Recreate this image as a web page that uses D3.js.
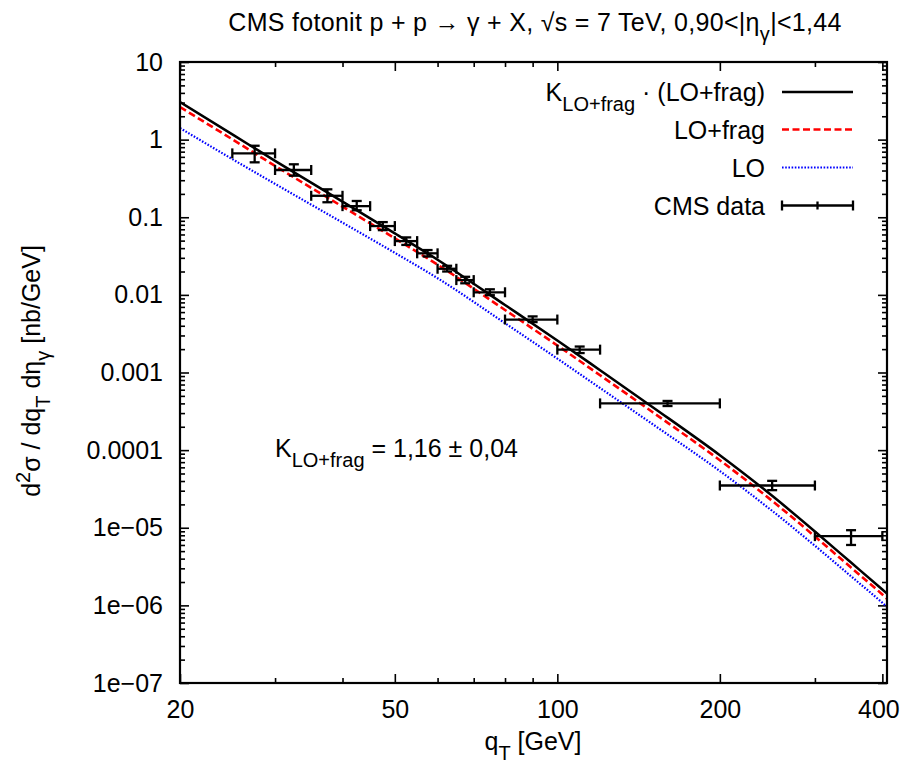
<!DOCTYPE html>
<html><head><meta charset="utf-8">
<script src="https://cdn.jsdelivr.net/npm/d3@7"></script>
<style>
html,body{margin:0;padding:0;background:#fff;}
svg text{font-family:"Liberation Sans",Arial,sans-serif;fill:#000;}
</style></head><body>
<svg id="chart" width="902" height="765"></svg>
<script>
// ---------- data ----------
const binLow  = [25,30,35,40,45,50,55,60,65,70,80,100,120,200,300];
const binHigh = [30,35,40,45,50,55,60,65,70,80,100,120,200,300,400];
const dataQ   = [27.5,32.5,37.5,42.5,47.5,52.5,57.5,62.5,67.5,75,90,110,160,250,350];
const dataVal = [0.665,0.406,0.189,0.139,0.077,0.0493,0.0343,0.0217,0.0155,0.0108,0.00481,0.00197,0.000400,3.5e-5,7.8e-6];
const dataLo  = [0.510,0.343,0.156,0.123,0.0682,0.044,0.0312,0.0200,0.0141,0.0099,0.00446,0.00178,0.00037,3.05e-5,6.0e-6];
const dataHi  = [0.834,0.481,0.229,0.162,0.0866,0.055,0.0378,0.0237,0.0171,0.0118,0.00528,0.00216,0.00043,4.02e-5,9.3e-6];

const curveQ   = [20,25,30,40,50,60,80,100,120,150,200,250,300,350,400,408];
const kLoFrag  = [3.05,1.17,0.533,0.159,0.0621,0.0284,0.00741,0.00259,0.00107,3.6e-4,8.6e-5,2.58e-5,8.95e-6,3.56e-6,1.60e-6,1.42e-6];
const loFrag   = [2.63,1.01,0.459,0.137,0.0535,0.0245,0.00639,0.00223,0.000922,3.10e-4,7.41e-5,2.22e-5,7.72e-6,3.07e-6,1.38e-6,1.22e-6];
const lo       = [1.41,0.561,0.269,0.0853,0.0348,0.0164,0.00432,0.00151,6.31e-4,2.17e-4,5.38e-5,1.65e-5,5.86e-6,2.37e-6,1.08e-6,9.57e-7];

const xTicks = [20,50,100,200,400];
const xTickLabels = ["20","50","100","200","400"];
const xMinorTicks = [30,40,60,70,80,90,300];
const yTicks = [1e-7,1e-6,1e-5,1e-4,1e-3,1e-2,1e-1,1,10];
const yTickLabels = ["1e\u221207","1e\u221206","1e\u221205","0.0001","0.001","0.01","0.1","1","10"];

// ---------- layout ----------
const M = {left:180, right:887, top:62, bottom:683};
const FS = 25;
const svg = d3.select("#chart");
const x = d3.scaleLog().domain([20,408]).range([M.left,M.right]);
const y = d3.scaleLog().domain([1e-7,10]).range([M.bottom,M.top]);

const yMinor = [];
for (let e=-7; e<1; e++) for (let k=2;k<=9;k++) yMinor.push(k*Math.pow(10,e));

function styleAxis(g){
  g.select(".domain").remove();
  g.selectAll(".tick line").attr("stroke","#000").attr("stroke-width",1.6);
  g.selectAll(".tick text").attr("font-size",FS).attr("font-family","Liberation Sans, Arial, sans-serif").attr("fill","#000");
}
// left
svg.append("g").attr("transform",`translate(${M.left},0)`)
  .call(d3.axisLeft(y).tickValues(yTicks).tickSize(-9).tickPadding(17).tickFormat((d,i)=>yTickLabels[i])).call(styleAxis);
svg.append("g").attr("transform",`translate(${M.left},0)`)
  .call(d3.axisLeft(y).tickValues(yMinor).tickSize(-5).tickFormat("")).call(styleAxis);
// right
svg.append("g").attr("transform",`translate(${M.right},0)`)
  .call(d3.axisRight(y).tickValues(yTicks).tickSize(-9).tickFormat("")).call(styleAxis);
svg.append("g").attr("transform",`translate(${M.right},0)`)
  .call(d3.axisRight(y).tickValues(yMinor).tickSize(-5).tickFormat("")).call(styleAxis);
// bottom
const xb = svg.append("g").attr("transform",`translate(0,${M.bottom})`)
  .call(d3.axisBottom(x).tickValues(xTicks).tickSize(-9).tickPadding(17).tickFormat((d,i)=>xTickLabels[i])).call(styleAxis);
xb.selectAll(".tick text").filter(d=>d===400).attr("dx",-4);
svg.append("g").attr("transform",`translate(0,${M.bottom})`)
  .call(d3.axisBottom(x).tickValues(xMinorTicks).tickSize(-5).tickFormat("")).call(styleAxis);
// top
svg.append("g").attr("transform",`translate(0,${M.top})`)
  .call(d3.axisTop(x).tickValues(xTicks).tickSize(-9).tickFormat("")).call(styleAxis);
svg.append("g").attr("transform",`translate(0,${M.top})`)
  .call(d3.axisTop(x).tickValues(xMinorTicks).tickSize(-5).tickFormat("")).call(styleAxis);

// clip
svg.append("clipPath").attr("id","clip").append("rect")
  .attr("x",M.left).attr("y",M.top).attr("width",M.right-M.left).attr("height",M.bottom-M.top);
const plot = svg.append("g").attr("clip-path","url(#clip)");

// curves
const line = d3.line().x(d=>x(d[0])).y(d=>y(d[1])).curve(d3.curveMonotoneX);
plot.append("path").datum(curveQ.map((q,i)=>[q,lo[i]]))
  .attr("d",line).attr("fill","none").attr("stroke","#0000ff").attr("stroke-width",2.2).attr("stroke-dasharray","1.6,1.6");
plot.append("path").datum(curveQ.map((q,i)=>[q,loFrag[i]]))
  .attr("d",line).attr("fill","none").attr("stroke","#ff0000").attr("stroke-width",2.6).attr("stroke-dasharray","7,3.5");
plot.append("path").datum(curveQ.map((q,i)=>[q,kLoFrag[i]]))
  .attr("d",line).attr("fill","none").attr("stroke","#000").attr("stroke-width",2.5);

// data error bars
const eb = plot.append("g").attr("stroke","#000").attr("stroke-width",2.3).attr("fill","none");
dataQ.forEach((q,i)=>{
  const cx=x(q), cy=y(dataVal[i]);
  const x1=x(binLow[i]), x2=x(binHigh[i]);
  const y1=y(dataHi[i]), y2=y(dataLo[i]);
  eb.append("line").attr("x1",x1).attr("x2",x2).attr("y1",cy).attr("y2",cy);
  eb.append("line").attr("x1",x1).attr("x2",x1).attr("y1",cy-5).attr("y2",cy+5);
  eb.append("line").attr("x1",x2).attr("x2",x2).attr("y1",cy-5).attr("y2",cy+5);
  eb.append("line").attr("x1",cx).attr("x2",cx).attr("y1",y1).attr("y2",y2);
  eb.append("line").attr("x1",cx-5).attr("x2",cx+5).attr("y1",y1).attr("y2",y1);
  eb.append("line").attr("x1",cx-5).attr("x2",cx+5).attr("y1",y2).attr("y2",y2);
});

// border
svg.append("rect").attr("x",M.left).attr("y",M.top).attr("width",M.right-M.left).attr("height",M.bottom-M.top)
  .attr("fill","none").attr("stroke","#000").attr("stroke-width",2.2);

// rich text helper
function rich(parent, px, py, parts, anchor, fs, rotate){
  const t = parent.append("text").attr("text-anchor",anchor).attr("font-size",fs);
  if (rotate) t.attr("transform",`translate(${px},${py}) rotate(${rotate})`);
  else t.attr("x",px).attr("y",py);
  let cur = 0;
  parts.forEach(p=>{
    let target = 0, size = fs;
    if (p.sub){ target = 0.4*fs; size = 0.8*fs; }
    if (p.sup){ target = -0.42*fs; size = 0.8*fs; }
    const ts = t.append("tspan").attr("font-size",size).text(p.t);
    if (target!==cur){ ts.attr("dy",target-cur); cur=target; }
  });
  return t;
}

// title
rich(svg, 535, 31, [{t:"CMS fotonit p + p \u2192 \u03b3 + X, \u221as = 7 TeV, 0,90<|\u03b7"},{t:"\u03b3",sub:true},{t:"|<1,44"}], "middle", FS)
  .attr("letter-spacing",0.3);
// x label
rich(svg, 533, 750, [{t:"q"},{t:"T",sub:true},{t:" [GeV]"}], "middle", FS);
// y label
rich(svg, 40, 371, [{t:"d"},{t:"2",sup:true},{t:"\u03c3 / dq"},{t:"T",sub:true},{t:" d\u03b7"},{t:"\u03b3",sub:true},{t:" [nb/GeV]"}], "middle", FS, -90);
// K annotation
rich(svg, 275, 457, [{t:"K"},{t:"LO+frag",sub:true},{t:" = 1,16 \u00b1 0,04"}], "start", FS);

// legend
const legY = [92,129.5,167.5,205.5];
const lx1 = 782, lx2 = 853, ltx = 765;
rich(svg, ltx, legY[0]+9, [{t:"K"},{t:"LO+frag",sub:true},{t:" \u00b7 (LO+frag)"}], "end", FS);
svg.append("line").attr("x1",lx1).attr("x2",lx2).attr("y1",legY[0]).attr("y2",legY[0]).attr("stroke","#000").attr("stroke-width",2.5);
rich(svg, ltx, legY[1]+9, [{t:"LO+frag"}], "end", FS);
svg.append("line").attr("x1",lx1).attr("x2",lx2).attr("y1",legY[1]).attr("y2",legY[1]).attr("stroke","#ff0000").attr("stroke-width",2.6).attr("stroke-dasharray","7,3.5");
rich(svg, ltx, legY[2]+9, [{t:"LO"}], "end", FS);
svg.append("line").attr("x1",lx1).attr("x2",lx2).attr("y1",legY[2]).attr("y2",legY[2]).attr("stroke","#0000ff").attr("stroke-width",2.2).attr("stroke-dasharray","1.6,1.6");
rich(svg, ltx, legY[3]+9, [{t:"CMS data"}], "end", FS);
const lg = svg.append("g").attr("stroke","#000").attr("stroke-width",2.3);
lg.append("line").attr("x1",lx1).attr("x2",lx2).attr("y1",legY[3]).attr("y2",legY[3]);
lg.append("line").attr("x1",lx1).attr("x2",lx1).attr("y1",legY[3]-5).attr("y2",legY[3]+5);
lg.append("line").attr("x1",lx2).attr("x2",lx2).attr("y1",legY[3]-5).attr("y2",legY[3]+5);
lg.append("line").attr("x1",(lx1+lx2)/2).attr("x2",(lx1+lx2)/2).attr("y1",legY[3]-4).attr("y2",legY[3]+4);
</script>
</body></html>
